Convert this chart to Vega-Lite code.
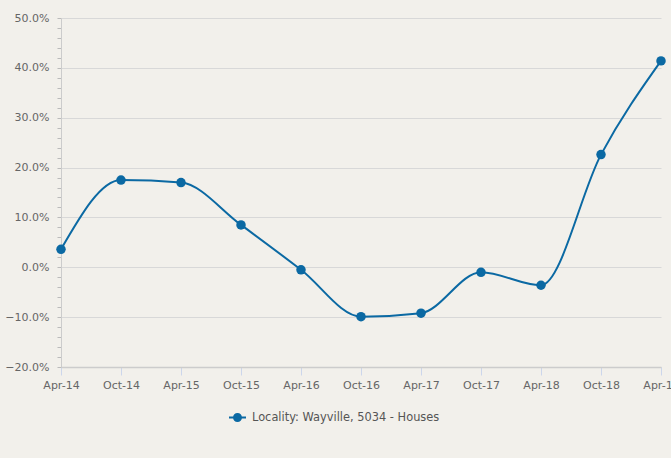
{
  "$schema": "https://vega.github.io/schema/vega-lite/v6.json",
  "width": 600,
  "height": 349,
  "autosize": {"type": "none"},
  "padding": {"left": 61, "top": 18, "right": 10, "bottom": 91},
  "background": "#f2f0eb",
  "config": {
    "view": {"stroke": null},
    "font": "DejaVu Sans",
    "axis": {"labelFont": "DejaVu Sans", "labelFontSize": 11, "labelColor": "#666666"},
    "legend": {"labelFont": "DejaVu Sans", "labelFontSize": 11.4, "labelColor": "#555555"}
  },
  "data": {
    "values": [
      {"period": "Apr-14", "growth": 0.036, "series": "Locality: Wayville, 5034 - Houses"},
      {"period": "Oct-14", "growth": 0.175, "series": "Locality: Wayville, 5034 - Houses"},
      {"period": "Apr-15", "growth": 0.170, "series": "Locality: Wayville, 5034 - Houses"},
      {"period": "Oct-15", "growth": 0.085, "series": "Locality: Wayville, 5034 - Houses"},
      {"period": "Apr-16", "growth": -0.005, "series": "Locality: Wayville, 5034 - Houses"},
      {"period": "Oct-16", "growth": -0.099, "series": "Locality: Wayville, 5034 - Houses"},
      {"period": "Apr-17", "growth": -0.092, "series": "Locality: Wayville, 5034 - Houses"},
      {"period": "Oct-17", "growth": -0.010, "series": "Locality: Wayville, 5034 - Houses"},
      {"period": "Apr-18", "growth": -0.036, "series": "Locality: Wayville, 5034 - Houses"},
      {"period": "Oct-18", "growth": 0.226, "series": "Locality: Wayville, 5034 - Houses"},
      {"period": "Apr-19", "growth": 0.414, "series": "Locality: Wayville, 5034 - Houses"}
    ]
  },
  "encoding": {
    "x": {
      "field": "period",
      "type": "ordinal",
      "sort": null,
      "scale": {"type": "point", "padding": 0},
      "axis": {
        "title": null,
        "labelAngle": 0,
        "domainColor": "#cccccc",
        "domainWidth": 1.5,
        "tickColor": "#ccd6eb",
        "tickSize": 8,
        "labelPadding": 4,
        "grid": false
      }
    },
    "y": {
      "field": "growth",
      "type": "quantitative",
      "scale": {"domain": [-0.2, 0.5], "nice": false, "zero": false},
      "axis": {
        "title": null,
        "values": [-0.2, -0.18, -0.16, -0.14, -0.12, -0.1, -0.08, -0.06, -0.04, -0.02, 0, 0.02, 0.04, 0.06, 0.08, 0.1, 0.12, 0.14, 0.16, 0.18, 0.2, 0.22, 0.24, 0.26, 0.28, 0.3, 0.32, 0.34, 0.36, 0.38, 0.4, 0.42, 0.44, 0.46, 0.48, 0.5],
        "labelExpr": "abs(datum.value*10 - round(datum.value*10)) < 0.001 ? format(datum.value, '.1%') : ''",
        "grid": true,
        "gridColor": "#d8d8d8",
        "gridOpacity": {"condition": {"test": "abs(datum.value*10 - round(datum.value*10)) < 0.001", "value": 1}, "value": 0},
        "domainColor": "#cccccc",
        "tickColor": "#bbbbbb",
        "tickSize": 4,
        "labelPadding": 8
      }
    },
    "color": {
      "field": "series",
      "type": "nominal",
      "scale": {"range": ["#0b69a3"]},
      "legend": {
        "title": null,
        "orient": "none",
        "legendX": 168,
        "legendY": 391,
        "symbolType": "M-1,-0.12L1,-0.12L1,0.12L-1,0.12Z M0.53,0A0.53,0.53,0,1,1,-0.53,0A0.53,0.53,0,1,1,0.53,0Z",
        "symbolSize": 289,
        "symbolStrokeWidth": 0,
        "symbolOpacity": 1,
        "labelOffset": 6,
        "labelLimit": 0
      }
    }
  },
  "layer": [
    {"mark": {"type": "line", "interpolate": "monotone", "strokeWidth": 2, "color": "#1c6fa3"}},
    {"mark": {"type": "point", "filled": true, "size": 90, "opacity": 1, "color": "#0b69a3"}}
  ]
}
